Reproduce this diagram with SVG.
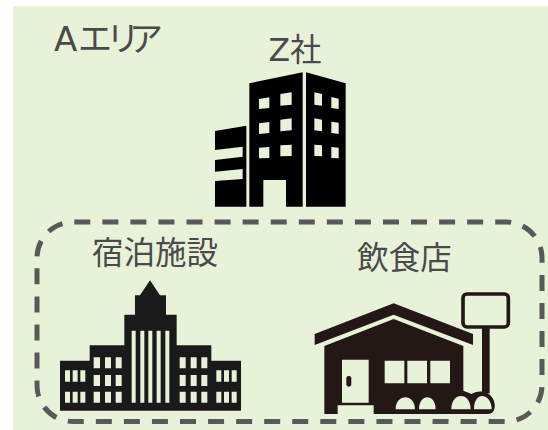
<svg xmlns="http://www.w3.org/2000/svg" width="548" height="430" viewBox="0 0 548 430">
<style>
.t{font-family:"DejaVu Sans","Noto Sans CJK JP",sans-serif;font-size:31.5px;fill:#4a4a4a;text-anchor:middle}
.w{fill:#e8f2d9}
</style>
<rect width="548" height="430" fill="#fff"/>
<rect x="13" y="6" width="535" height="424" fill="#e8f2d9"/>
<g id="connectors"></g>
<g id="area-a"><text class="t" style="text-anchor:start;font-size:34px" x="54 78 106 129" y="51">Aエリア</text></g>
<g id="z-company">
<text class="t" x="295" y="61">Z社</text>
<g transform="translate(200,20) scale(.33333)">
<path d="M45 333 139 317V560H45V483L128 477V447L45 455V420L128 410V380L45 390ZM148 190 308 157V560H258V480H190V560H148ZM318 157 437 190V560H318Z"/>
<path class="w" d="M177 237 208 232V264L177 267ZM241 222 275 217V254L241 257ZM177 310 208 306V339L177 342ZM241 299 275 295V331L241 334ZM177 383 208 381V414L177 415ZM241 376 275 374V408L241 409ZM343 217 366 222V257L343 254ZM394 231 416 236V267L394 264ZM343 295 366 299V334L343 331ZM394 305 416 308V342L394 339ZM343 374 366 376V409L343 408ZM394 381 416 383V415L394 414Z"/>
</g>
</g>
<g id="lodging">
<text class="t" x="155" y="264">宿泊施設</text>
<g transform="translate(20,220) scale(.33333)">
<path fill="#1a1a1a" d="M120 422H209V376H313V284H345V226H360L390 181 420 226H438V284H470V376H574V422H663V572H120Z"/>
<path class="w" d="M335 332H347V548H335ZM361 332H373V548H361ZM385 332H397V548H385ZM410 332H422V548H410ZM436 332H448V548H436ZM221 412H240V445H221ZM255 412H273V445H255ZM287 412H305V445H287ZM221 465H240V498H221ZM255 465H273V498H255ZM287 465H305V498H287ZM221 515H240V548H221ZM255 515H273V548H255ZM287 515H305V548H287ZM479 412H497V445H479ZM512 412H530V445H512ZM544 412H562V445H544ZM479 465H497V498H479ZM512 465H530V498H512ZM544 465H562V498H544ZM479 515H497V548H479ZM512 515H530V548H512ZM544 515H562V548H544ZM135 451H150V485H135ZM158 451H173V485H158ZM181 451H196V485H181ZM135 515H150V548H135ZM158 515H173V548H158ZM181 515H196V548H181ZM589 451H604V485H589ZM612 451H627V485H612ZM635 451H650V485H635ZM589 515H604V548H589ZM612 515H627V548H612ZM635 515H650V548H635Z"/>
</g>
</g>
<g id="restaurant">
<text class="t" x="404.5" y="269">飲食店</text>
<g transform="translate(300,220) scale(.33333)">
<path fill="#231815" d="M44 342 281 250 519 342V375L281 284 44 375ZM73 378 281 297 490 378V512L515 522C530 510 565 510 578 535 590 555 585 582 565 582H221V556H113V582H73Z"/>
<rect x="489" y="222" width="136" height="99" rx="12" fill="none" stroke="#231815" stroke-width="11"/>
<rect x="546" y="320" width="23" height="200" fill="#231815"/>
<path class="w" d="M126 419H206V548H126ZM254 422H313V490H254ZM322 422H381V490H322ZM391 422H450V490H391ZM287 568C287 520 345 520 345 568ZM357 568C357 520 407 520 407 568ZM454 568C454 515 512 515 512 568ZM522 568C522 510 575 520 575 568Z"/>
<rect x="139" y="468" width="15" height="32" rx="7" fill="#231815"/>
</g>
</g>
<g id="dashed-group"><rect x="37" y="222" width="505" height="199.5" rx="36" fill="none" stroke="#595959" stroke-width="5" stroke-dasharray="16 12.06" stroke-dashoffset="-1.3"/></g>
</svg>
